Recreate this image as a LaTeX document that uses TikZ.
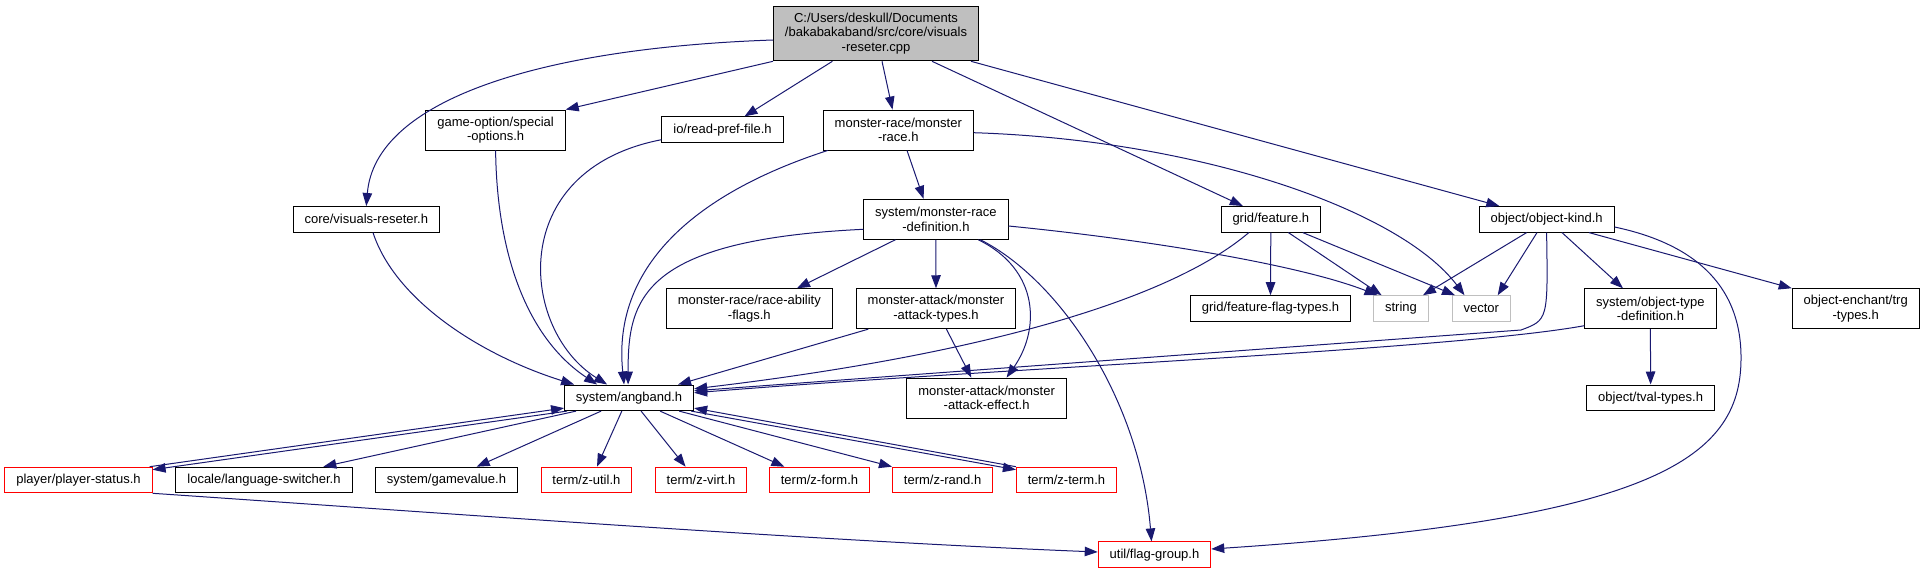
\documentclass[tikz,border=0pt]{standalone}
\usepackage{fontspec}
\setmainfont{Liberation Sans}
\usetikzlibrary{arrows.meta}
\definecolor{edgeblue}{RGB}{25,25,112}
\definecolor{grey75}{RGB}{191,191,191}

\begin{document}
\begin{tikzpicture}[
	x=1pt, y=-1pt,
	hfile/.style={ rectangle, draw=black, line width=0.9pt, inner xsep=11.5pt, inner ysep=0pt, minimum height=25.7pt, align=center, font=\fontsize{13pt}{14.5pt}\selectfont },
	hfile2/.style={ hfile, minimum height=40pt },
	hfiler/.style={ hfile, draw=red },
	hfileg/.style={ hfile, draw=grey75 },
	dep/.style={ draw=edgeblue, line width=1pt, -{Triangle[length=13pt,width=9.5pt]} }
]
\useasboundingbox (0,0) rectangle (1925,573);

\node at (876,33.5) (root) [hfile, fill=grey75, minimum height=54.7pt] {C:/Users/deskull/Documents\\/bakabakaband/src/core/visuals\\-reseter.cpp};

\node at (495.6,130) (so) [hfile2] {game-option/special\\-options.h};
\node at (722.5,129.7) (rpf) [hfile] {io/read-pref-file.h};
\node at (898.3,130) (mr) [hfile2] {monster-race/monster\\-race.h};
\node at (366.3,219.3) (vr) [hfile] {core/visuals-reseter.h};
\node at (935.9,219.3) (def) [hfile2] {system/monster-race\\-definition.h};
\node at (1270.8,219.3) (feat) [hfile] {grid/feature.h};
\node at (1546.6,219.3) (ok) [hfile] {object/object-kind.h};

\node at (749.3,308.7) (ra) [hfile2] {monster-race/race-ability\\-flags.h};
\node at (936,308.7) (atk) [hfile2] {monster-attack/monster\\-attack-types.h};
\node at (1270.5,308.5) (ffl) [hfile] {grid/feature-flag-types.h};
\node at (1401,308.5) (str) [hfileg] {string};
\node at (1481.3,308.5) (vec) [hfileg] {vector};
\node at (1650.4,308.7) (otd) [hfile2] {system/object-type\\-definition.h};
\node at (1855.7,308.7) (trg) [hfile2] {object-enchant/trg\\-types.h};

\node at (629.1,397.8) (ang) [hfile] {system/angband.h};
\node at (986.6,398) (aeff) [hfile2] {monster-attack/monster\\-attack-effect.h};
\node at (1650.6,397.8) (tv) [hfile] {object/tval-types.h};

\node at (78.5,480) (ps) [hfiler] {player/player-status.h};
\node at (264,480) (ls) [hfile] {locale/language-switcher.h};
\node at (446.4,480) (gv) [hfile] {system/gamevalue.h};
\node at (586.4,480) (zu) [hfiler] {term/z-util.h};
\node at (701,480) (zv) [hfiler] {term/z-virt.h};
\node at (819.5,480) (zf) [hfiler] {term/z-form.h};
\node at (942.6,480) (zr) [hfiler] {term/z-rand.h};
\node at (1066.5,480) (zt) [hfiler] {term/z-term.h};
\node at (1154.5,554.7) (fg) [hfiler] {util/flag-group.h};

\draw[dep] ([yshift=-6.5pt]root.west) .. controls (540,48) and (375,100) .. (vr.north);
\draw[dep] (root.south west) -- (so.north east);
\draw[dep] ([xshift=-43.6pt]root.south) -- ([xshift=22pt]rpf.north);
\draw[dep] ([xshift=6pt]root.south) -- ([xshift=-5.8pt]mr.north);
\draw[dep] ([xshift=56pt]root.south) -- ([xshift=-28pt]feat.north);
\draw[dep] ([xshift=95pt]root.south) -- ([xshift=-47.3pt]ok.north);

\draw[dep] (so.south) .. controls (497,260) and (530,340) .. ([xshift=-32pt]ang.north);
\draw[dep] ([yshift=-10pt]rpf.west) .. controls (505,170) and (520,330) .. ([xshift=-22pt]ang.north);
\draw[dep] ([xshift=6.7pt]vr.south) .. controls (395,300) and (480,355) .. ([xshift=-55pt]ang.north);
\draw[dep] ([xshift=5pt]mr.south west) .. controls (690,195) and (612,270) .. ([xshift=-5pt]ang.north);
\draw[dep] ([yshift=-10pt]def.west) .. controls (640,240) and (628,300) .. ([xshift=-1pt]ang.north);
\draw[dep] ([xshift=12.5pt]atk.south west) -- ([xshift=49pt]ang.north);
\draw[dep] ([xshift=-22pt]feat.south) .. controls (1170,300) and (980,355) .. ([yshift=9pt]ang.east);
\draw[dep] (ok.south) .. controls (1548,320) .. (1521,330) -- ([yshift=7pt]ang.east);
\draw[dep] ([yshift=-17pt]otd.west) .. controls (1450,350) and (1000,368) .. ([yshift=5pt]ang.east);

\draw[dep] ([xshift=8.7pt]mr.south) -- ([xshift=-12.3pt]def.north);
\draw[dep] ([yshift=-2.7pt]mr.east) .. controls (1200,140) and (1400,210) .. ([xshift=-16.8pt]vec.north);

\draw[dep] ([xshift=-40.5pt]def.south) -- ([xshift=47.7pt]ra.north);
\draw[dep] (def.south) -- (atk.north);
\draw[dep] ([xshift=42.4pt]def.south) .. controls (1040,270) and (1040,330) .. ([xshift=20pt]aeff.north);
\draw[dep] ([xshift=44.5pt]def.south) .. controls (1060,280) and (1140,400) .. ([xshift=-3pt]fg.north);
\draw[dep] ([yshift=-6.7pt]def.east) .. controls (1150,240) and (1300,265) .. ([xshift=-23.5pt]str.north);

\draw[dep] (feat.south) -- (ffl.north);
\draw[dep] ([xshift=17.6pt]feat.south) -- ([xshift=-19.4pt]str.north);
\draw[dep] ([xshift=32pt]feat.south) -- ([xshift=-26.3pt]vec.north);

\draw[dep] ([xshift=-20pt]ok.south) -- ([xshift=22pt]str.north);
\draw[dep] ([xshift=-9.6pt]ok.south) -- ([xshift=16.4pt]vec.north);
\draw[dep] ([xshift=15.4pt]ok.south) -- ([xshift=-27.5pt]otd.north);
\draw[dep] ([xshift=42.4pt]ok.south) -- (trg.north west);
\draw[dep] ([yshift=-7.7pt]ok.east) .. controls (1700,245) and (1742,290) .. (1741,360) .. controls (1740,460) and (1650,520) .. ([yshift=5.7pt]fg.east);

\draw[dep] (otd.south) -- (tv.north);
\draw[dep] ([xshift=10.4pt]atk.south) -- ([xshift=-15.3pt]aeff.north);

\draw[dep] ([xshift=3pt]ang.south west) -- ([yshift=-3pt]ps.north east);
\draw[dep] ([xshift=-3pt]ps.north east) -- ([yshift=3pt]ang.south west);
\foreach \s/\t/\e in {-53/ls/59.3, -28/gv/30.3, -7.3/zu/10.6, 12/zv/-15.4, 31/zf/-35.1}
	\draw[dep] ([xshift=\s]ang.south) -- ([xshift=\e]\t.north);
\draw[dep] ([xshift=50pt]ang.south) -- (zr.north west);
\draw[dep] ([xshift=-3pt]ang.south east) -- ([yshift=-3pt]zt.north west);
\draw[dep] (zt.north west) -- ([yshift=3pt]ang.south east);
\draw[dep] (ps.south east) .. controls (400,510) and (800,540) .. ([yshift=2.7pt]fg.west);

\end{tikzpicture}
\end{document}
